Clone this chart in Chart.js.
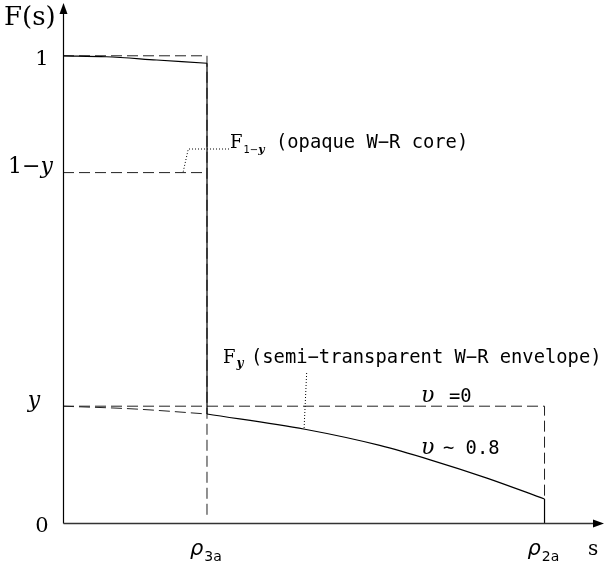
<!DOCTYPE html>
<html>
<head>
<meta charset="utf-8">
<title>F(s)</title>
<script src="https://cdn.jsdelivr.net/npm/chart.js@4"></script>
<style>
    html, body { margin: 0; padding: 0; background: #fff; }
    canvas { display: block; }
</style>
</head>
<body>
<canvas id="fsChart" width="604" height="569"></canvas>
<script>
// tick values and labels
const yTickValues = [0, 0.25, 0.75, 1];
const yTickLabels = ['0', 'y', '1−y', '1'];
const xTickValues = [1.0, 3.344];
const xTickLabels = ['3a', '2a'];   // subscripts of rho

const rho3a = 1.0;
const rho2a = 3.344;
const yLevel = 0.25;
const oneMinusY = 0.75;

// opaque core curve, 0 .. rho3a
const coreS = [0, 0.3, 0.65, 1.0];
const coreF = [1.0, 0.998, 0.991, 0.984];

// envelope curve hidden behind the core (dashed), 0 .. rho3a
const envInnerS = [0, 0.5, 1.0];
const envInnerF = [0.25, 0.244, 0.2333];

// envelope curve, v ~ 0.8, rho3a .. rho2a
const envS = [1.0, 1.68, 2.2, 2.55, 2.944, 3.344];
const envF = [0.2333, 0.2006, 0.166, 0.1352, 0.0961, 0.0514];

// dotted leaders for the two labels
const coreLeaderS = [1.153, 0.870, 0.835];
const coreLeaderF = [0.8005, 0.8005, 0.752];
const envLeaderS = [1.692, 1.674];
const envLeaderF = [0.321, 0.2006];

function pts(xs, ys) {
    return xs.map((x, i) => ({ x: x, y: ys[i] }));
}

function solid(data, curve) {
    return {
        data: data, showLine: true, pointRadius: 0, borderColor: '#000',
        borderWidth: 1.2, fill: false,
        cubicInterpolationMode: curve ? 'monotone' : 'default'
    };
}

function dashed(data, curve) {
    return {
        data: data, showLine: true, pointRadius: 0, borderColor: '#222',
        borderWidth: 1, borderDash: [11, 5], fill: false,
        cubicInterpolationMode: curve ? 'monotone' : 'default'
    };
}

function dotted(data) {
    return {
        data: data, showLine: true, pointRadius: 0, borderColor: '#000',
        borderWidth: 1, borderDash: [1, 2], fill: false
    };
}

// draw a row of text pieces with different fonts
function drawRuns(ctx, x, y, runs) {
    runs.forEach(r => {
        ctx.font = r.font;
        ctx.fillText(r.text, x + (r.dx || 0), y + (r.dy || 0));
        x += (r.dx || 0) + ctx.measureText(r.text).width;
    });
}

const SERIF = '"DejaVu Serif"';
const SANS = '"DejaVu Sans"';
const MONO = '"DejaVu Sans Mono"';

const labelsPlugin = {
    id: 'labelsPlugin',
    beforeDraw(chart) {
        const ctx = chart.ctx;
        ctx.save();
        ctx.fillStyle = '#fff';
        ctx.fillRect(0, 0, chart.width, chart.height);
        ctx.restore();
    },
    afterDraw(chart) {
        const ctx = chart.ctx;
        const xs = chart.scales.x;
        const ys = chart.scales.y;
        const x0 = Math.round(xs.getPixelForValue(0)) + 0.5;
        const y0 = Math.round(ys.getPixelForValue(0)) + 0.5;
        const area = chart.chartArea;

        ctx.save();
        ctx.strokeStyle = '#000';
        ctx.fillStyle = '#000';
        ctx.lineWidth = 1.2;

        // axes with arrows
        ctx.beginPath();
        ctx.moveTo(x0, y0);
        ctx.lineTo(x0, area.top + 9);
        ctx.stroke();
        ctx.strokeStyle = '#333';
        ctx.lineWidth = 1.6;
        ctx.beginPath();
        ctx.moveTo(x0, y0);
        ctx.lineTo(area.right - 9, y0);
        ctx.stroke();
        ctx.beginPath();
        ctx.moveTo(x0, area.top);
        ctx.lineTo(x0 - 4, area.top + 11);
        ctx.lineTo(x0 + 4, area.top + 11);
        ctx.closePath();
        ctx.fill();
        ctx.beginPath();
        ctx.moveTo(area.right, y0);
        ctx.lineTo(area.right - 11, y0 - 4);
        ctx.lineTo(area.right - 11, y0 + 4);
        ctx.closePath();
        ctx.fill();

        ctx.textBaseline = 'alphabetic';

        // y tick labels
        yTickValues.forEach((v, i) => {
            const py = ys.getPixelForValue(v);
            const lab = yTickLabels[i];
            if (lab === '1−y') {
                drawRuns(ctx, 8, py, [
                    { text: '1−', font: '22px ' + SERIF },
                    { text: 'y', font: 'italic 22px ' + SERIF }
                ]);
            } else if (lab === 'y') {
                ctx.textAlign = 'center';
                ctx.font = 'italic 22px ' + SERIF;
                ctx.fillText(lab, 34, py + 1);
                ctx.textAlign = 'left';
            } else {
                ctx.textAlign = 'center';
                ctx.font = '21px ' + SERIF;
                ctx.fillText(lab, 42, py + 9);
                ctx.textAlign = 'left';
            }
        });

        // x tick labels: rho with subscript
        xTickValues.forEach((v, i) => {
            const px = xs.getPixelForValue(v);
            drawRuns(ctx, px - 17, 555, [
                { text: 'ρ', font: 'italic 21px ' + SANS },
                { text: xTickLabels[i], font: '14px ' + SANS, dy: 6, dx: 1 }
            ]);
        });

        // axis titles
        ctx.font = '26px ' + SERIF;
        ctx.fillText('F(s)', 4, 24.5);
        ctx.font = '20px ' + SERIF;
        ctx.fillText('s', 588, 555);

        // annotations
        drawRuns(ctx, 230, 148, [
            { text: 'F', font: '18px ' + SERIF },
            { text: '1−', font: '10px ' + SANS, dy: 5, dx: 1 },
            { text: 'y', font: 'italic bold 11px ' + SERIF, dy: 5 }
        ]);
        ctx.font = '18.8px ' + MONO;
        ctx.fillText('(opaque W−R core)', 276, 148);

        drawRuns(ctx, 223, 363, [
            { text: 'F', font: '18px ' + SERIF },
            { text: 'y', font: 'italic bold 12px ' + SERIF, dy: 4, dx: 1 }
        ]);
        ctx.font = '18.8px ' + MONO;
        ctx.fillText('(semi−transparent W−R envelope)', 251, 363);

        ctx.font = 'italic 22px ' + SERIF;
        ctx.fillText('υ', 421, 402);
        ctx.fillText('υ', 421, 454);
        ctx.font = '18.8px ' + MONO;
        ctx.fillText('=0', 449, 402);
        ctx.fillText('~ 0.8', 443, 454);

        ctx.restore();
    }
};

document.addEventListener('DOMContentLoaded', function () {
    const datasets = [
        // solid lines
        solid(pts(coreS, coreF), true),
        solid(pts([rho3a, rho3a], [coreF[coreF.length - 1], envF[0]]), false),
        solid(pts(envS, envF), true),
        solid(pts([rho2a, rho2a], [envF[envF.length - 1], 0]), false),
        // dotted leaders
        dotted(pts(coreLeaderS, coreLeaderF)),
        dotted(pts(envLeaderS, envLeaderF)),
        // dashed limits
        dashed(pts([0, rho3a], [1, 1]), false),
        dashed(pts([rho3a, rho3a], [1, 0.013]), false),
        dashed(pts([0, rho3a], [oneMinusY, oneMinusY]), false),
        dashed(pts([0, rho2a, rho2a], [yLevel, yLevel, envF[envF.length - 1]]), false),
        dashed(pts(envInnerS, envInnerF), true)
    ];

    new Chart(document.getElementById('fsChart'), {
        type: 'scatter',
        data: { datasets: datasets },
        options: {
            responsive: false,
            animation: false,
            devicePixelRatio: 1,
            layout: { padding: { left: 63, right: 0, top: 3, bottom: 46 } },
            plugins: {
                legend: { display: false },
                tooltip: { enabled: false }
            },
            scales: {
                x: { type: 'linear', min: 0, max: 3.757, display: false },
                y: { type: 'linear', min: 0, max: 1.113, display: false }
            }
        },
        plugins: [labelsPlugin]
    });
});
</script>
</body>
</html>
